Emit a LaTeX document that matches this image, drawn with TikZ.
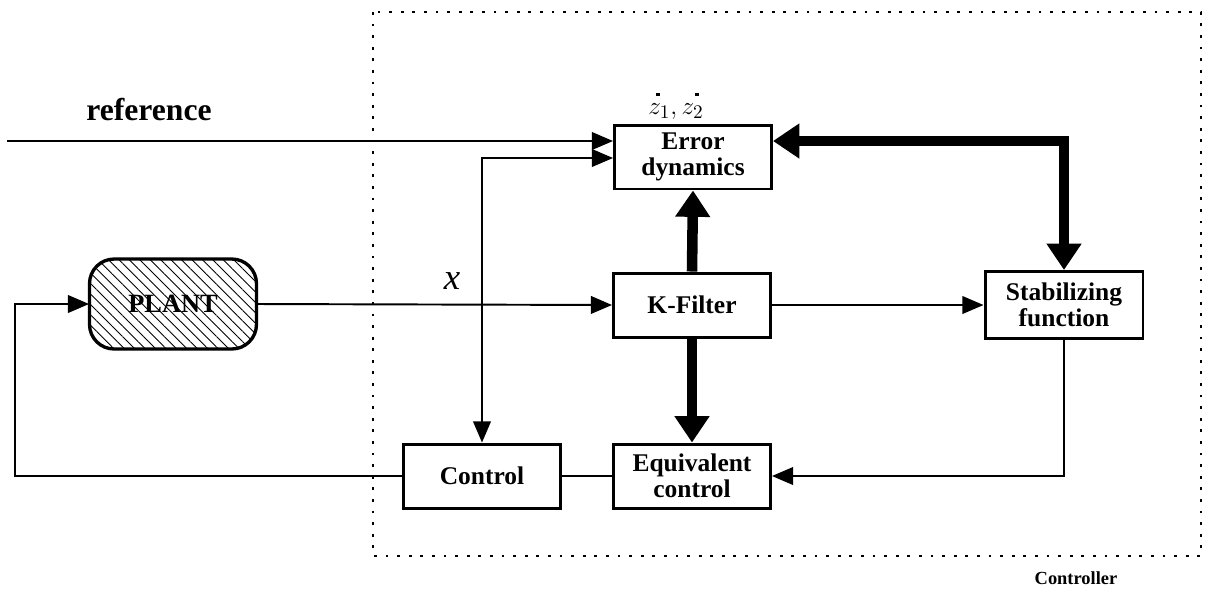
\documentclass[tikz,border=0pt]{standalone}
\usepackage{fontspec}
\setmainfont{Liberation Serif}
\usetikzlibrary{arrows.meta,patterns.meta,calc}
\tikzset{
  blk/.style={draw,line width=1.7pt,fill=white,minimum width=3.14cm,minimum height=1.28cm,align=center,inner sep=1pt,font=\fontsize{14.5}{15}\selectfont\bfseries},
  thin/.style={line width=1.1pt},
  arr/.style={thin,-{Triangle[length=12pt,width=10pt]}},
  darr/.style={thin,{Triangle[length=12pt,width=10pt]}-{Triangle[length=12pt,width=10pt]}},
  fat/.style={line width=6pt,-{Triangle[length=15pt,width=19pt]}},
  dfat/.style={line width=6pt,{Triangle[length=15pt,width=19pt]}-{Triangle[length=15pt,width=19pt]}},
  dotbox/.style={line width=1.6pt,dash pattern=on 1.6pt off 5pt},
  tick/.style={fill=black,draw=none},
}
\begin{document}
\begin{tikzpicture}[x=0.02cm,y=-0.02cm]
\useasboundingbox (0,0) rectangle (1213,600);
% controller frame
\draw[dotbox] (373,12) rectangle (1201,556);
\node[font=\fontsize{10.5}{12}\selectfont\bfseries] (ctl) at (1076,578) {Controller};
% blocks
\node[blk] (err) at (693,157) {Error\\dynamics};
\node[blk] (kf) at (692,305) {K-Filter};
\node[blk] (eq) at (692,476) {Equivalent\\control};
\node[blk] (ctrl) at (482,476) {Control};
\node[blk,minimum width=3.16cm,minimum height=1.34cm] (stab) at (1064,305) {Stabilizing\\function};
\node[draw,line width=1.9pt,rounded corners=14pt,minimum width=3.34cm,minimum height=1.8cm,
      pattern={Lines[angle=-45,distance=4.2pt,line width=0.5pt]},
      font=\fontsize{15}{16}\selectfont\bfseries] (plant) at (173,304) {PLANT};
% labels
\node[font=\fontsize{18}{20}\selectfont\bfseries] (reflab) at (149,110) {reference};
\node[font=\fontsize{21}{22}\selectfont\itshape] (xlab) at (452,281) {x};
\node[font=\fontsize{15}{16}\selectfont] (zlab) at (676,112) {$z_1, z_2$};
\fill[tick] (656,93) rectangle (660,96);
\fill[tick] (695,93) rectangle (699,96);
% thin connectors
\coordinate (refstart) at (7,141);
\draw[arr] (refstart) -- (refstart -| err.west);
\coordinate (xz) at (482,158);
\draw[darr] (ctrl.north) -- (xz) -- (xz -| err.west);
\draw[arr] (plant.east) -- (kf.west);
\draw[arr] (kf.east) -- (stab.west);
\draw[arr] (stab.south) |- (eq.east);
\draw[thin] (ctrl.east) -- (eq.west);
\coordinate (fb) at (15,476);
\draw[arr] (ctrl.west) -- (fb) |- (plant.west);
% thick connectors
\draw[fat] (kf.north) -- (err.south);
\draw[fat] (kf.south) -- (eq.north);
\coordinate (tc) at (stab.north |- 0,141);
\draw[dfat] (stab.north) -- (tc) -- (tc -| err.east);
\end{tikzpicture}
\end{document}
